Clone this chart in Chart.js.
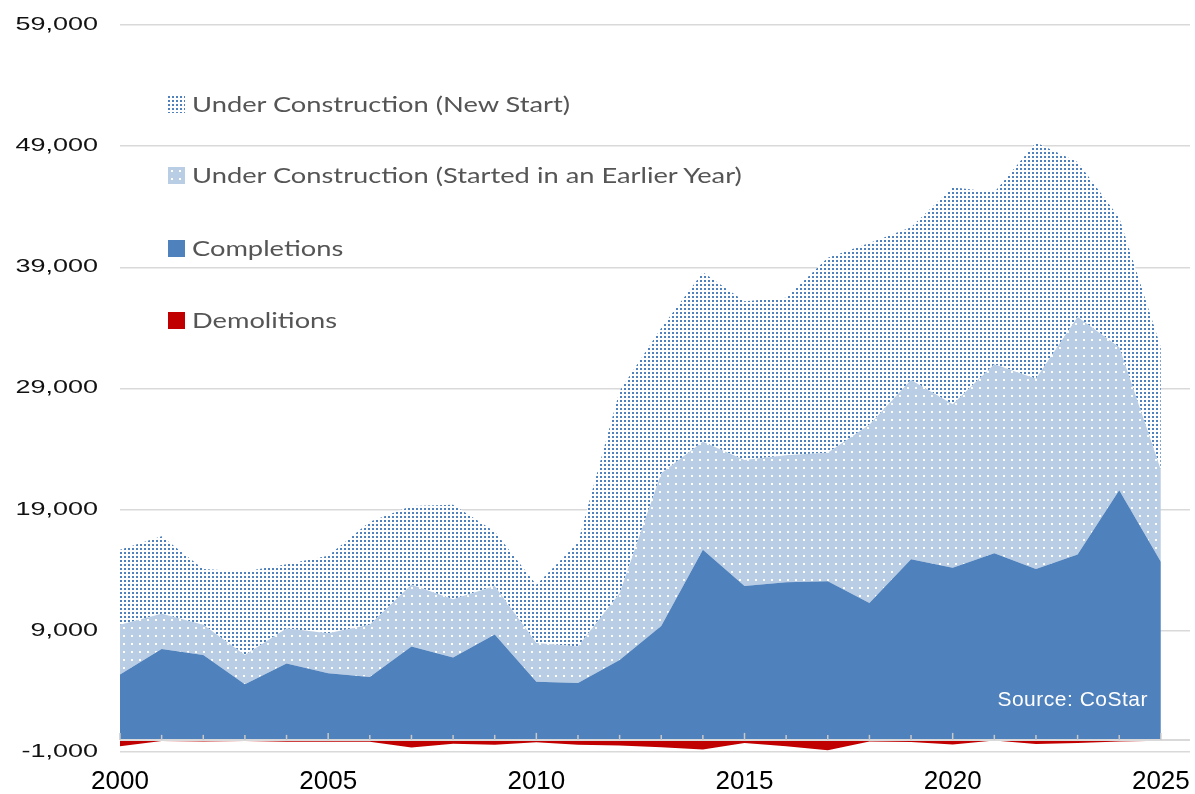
<!DOCTYPE html>
<html>
<head>
<meta charset="utf-8">
<script src="https://cdn.jsdelivr.net/npm/chart.js@4.4.1/dist/chart.umd.min.js"></script>
<style>
  html, body { margin: 0; padding: 0; background: #fff; }
  #wrap { position: relative; width: 1195px; height: 794px; }
  #chart { display: block; }
  .leg { position: absolute; left: 168px; height: 30px; display: flex; align-items: center;
         font-family: Lato, sans-serif; font-size: 22px; line-height: 30px; color: #555; white-space: nowrap; }
  .leg span.t { display: inline-block; transform: scaleX(1.24); transform-origin: left center; }
  .sw { width: 17px; height: 17px; margin-right: 7px; flex: none; }
  #source { position: absolute; right: 47px; top: 687px; font-family: "Liberation Sans", Arial, sans-serif;
            font-size: 21px; letter-spacing: 0.5px; color: #fff; }
</style>
</head>
<body>
<div id="wrap">
  <canvas id="chart" width="1195" height="794"></canvas>
  <div class="leg" style="top:89px"><span class="sw" id="sw-new"></span><span class="t">Under Construction (New Start)</span></div>
  <div class="leg" style="top:160px"><span class="sw" id="sw-early"></span><span class="t">Under Construction (Started in an Earlier Year)</span></div>
  <div class="leg" style="top:233px"><span class="sw" style="background:#4F81BD"></span><span class="t">Completions</span></div>
  <div class="leg" style="top:305px"><span class="sw" style="background:#C00000"></span><span class="t">Demolitions</span></div>
  <div id="source">Source: CoStar</div>
</div>
<script>
// ---- data ------------------------------------------------------------------
const years = [2000, 2001, 2002, 2003, 2004, 2005, 2006, 2007, 2008, 2009, 2010, 2011, 2012,
               2013, 2014, 2015, 2016, 2017, 2018, 2019, 2020, 2021, 2022, 2023, 2024, 2025];

const completions = [5400, 7500, 7000, 4600, 6300, 5500, 5200, 7700, 6800, 8700, 4800, 4700, 6600,
                     9400, 15700, 12700, 13000, 13100, 11300, 14900, 14200, 15400, 14100, 15300, 20600, 14700];

const ucEarlier   = [4100, 2900, 2500, 2400, 2900, 3300, 4300, 5100, 4800, 4000, 3200, 3000, 5500,
                     12600, 8900, 10400, 10500, 10600, 14700, 14800, 13500, 15600, 15700, 19600, 11800, 7600];

const ucNewStart  = [6200, 6400, 4600, 6900, 5300, 6400, 8500, 6500, 7800, 4500, 4800, 8600, 16700,
                     12000, 14000, 13100, 13000, 16100, 15000, 12600, 17900, 14200, 19500, 12800, 10700, 10100];

const demolitions = [-520, -100, -130, -100, -150, -150, -150, -630, -320, -410, -190, -410, -470,
                     -600, -800, -250, -520, -850, -140, -170, -390, -50, -350, -250, -140, -80];

const xLabelYears = [2000, 2005, 2010, 2015, 2020, 2025];
const yMin = -1000, yMax = 59000, yStep = 10000;

// ---- fill patterns ---------------------------------------------------------
function patternCanvas(size, bg, fg, dot, at) {
  const c = document.createElement('canvas');
  c.width = c.height = size;
  const g = c.getContext('2d');
  g.fillStyle = bg;
  g.fillRect(0, 0, size, size);
  g.fillStyle = fg;
  g.fillRect(at, at, dot, dot);
  return c;
}
const denseTile = patternCanvas(4, '#ffffff', '#4F81BD', 2, 0);
const lightTile = patternCanvas(8, '#B9CDE5', '#ffffff', 2, 3);

document.getElementById('sw-new').style.background = `url(${denseTile.toDataURL()})`;
document.getElementById('sw-early').style.background = `url(${lightTile.toDataURL()})`;

const ctx = document.getElementById('chart').getContext('2d');
const densePattern = ctx.createPattern(denseTile, 'repeat');
const lightPattern = ctx.createPattern(lightTile, 'repeat');

const toPts = arr => arr.map((v, i) => ({ x: years[i], y: v }));

// zero axis with yearly tick marks, like the Excel horizontal axis crossing at 0
const zeroAxis = {
  id: 'zeroAxis',
  afterDatasetsDraw(chart) {
    const { ctx, chartArea, scales: { x, y } } = chart;
    const y0 = y.getPixelForValue(0);
    ctx.save();
    ctx.strokeStyle = '#d9d9d9';
    ctx.lineWidth = 2;
    ctx.beginPath();
    ctx.moveTo(chartArea.left, y0);
    ctx.lineTo(chartArea.right, y0);
    ctx.stroke();
    ctx.strokeStyle = '#c8c8c8';
    ctx.lineWidth = 1.5;
    for (const yr of years) {
      const px = x.getPixelForValue(yr);
      const len = yr % 5 === 0 ? 7 : 5;
      ctx.beginPath();
      ctx.moveTo(px, y0);
      ctx.lineTo(px, y0 - len);
      ctx.stroke();
    }
    ctx.restore();
    // the y labels (ticks.z = 1) are drawn after this: stretch them sideways
    const pivot = chart.scales.y.right - chart.options.scales.y.ticks.padding;
    ctx.save();
    ctx.translate(pivot, 0);
    ctx.scale(1.5, 1);
    ctx.translate(-pivot, 0);
  },
  afterDraw(chart) {
    chart.ctx.restore();
  }
};

const area = { pointRadius: 0, borderWidth: 0, borderColor: 'transparent', tension: 0 };

new Chart(ctx, {
  type: 'line',
  data: {
    datasets: [
      { ...area, label: 'Completions', data: toPts(completions), backgroundColor: '#4F81BD', fill: 'origin' },
      { ...area, label: 'Under Construction (Started in an Earlier Year)', data: toPts(ucEarlier), backgroundColor: lightPattern, fill: '-1' },
      { ...area, label: 'Under Construction (New Start)', data: toPts(ucNewStart), backgroundColor: densePattern, fill: '-1' },
      { ...area, label: 'Demolitions', data: toPts(demolitions), backgroundColor: '#C00000', fill: 'origin', stack: 'demo' },
    ],
  },
  options: {
    responsive: false,
    animation: false,
    layout: { padding: { top: 25, right: 5, left: 0, bottom: 0 } },
    plugins: { legend: { display: false }, tooltip: { enabled: false } },
    scales: {
      x: {
        type: 'linear', bounds: 'data', min: 2000, max: 2025.7,
        grid: { display: false, drawTicks: false },
        border: { display: false },
        ticks: {
          stepSize: 5, includeBounds: false, autoSkip: false, maxRotation: 0, padding: 14,
          color: '#000', font: { family: 'Liberation Sans', size: 26 },
          callback: v => xLabelYears.includes(v) ? String(v) : '',
        },
        afterFit: s => { s.height = 42; s.paddingLeft = 0; s.paddingRight = 0; },
      },
      y: {
        stacked: true, min: yMin, max: yMax,
        grid: { color: '#d9d9d9', lineWidth: 1.5, drawTicks: false },
        border: { display: false },
        ticks: { stepSize: yStep, padding: 22, z: 1, color: '#111', font: { family: 'Liberation Sans', size: 18 } },
        afterFit: s => { s.width = 120; s.paddingTop = 0; s.paddingBottom = 0; },
      },
    },
  },
  plugins: [zeroAxis],
});
</script>
</body>
</html>
